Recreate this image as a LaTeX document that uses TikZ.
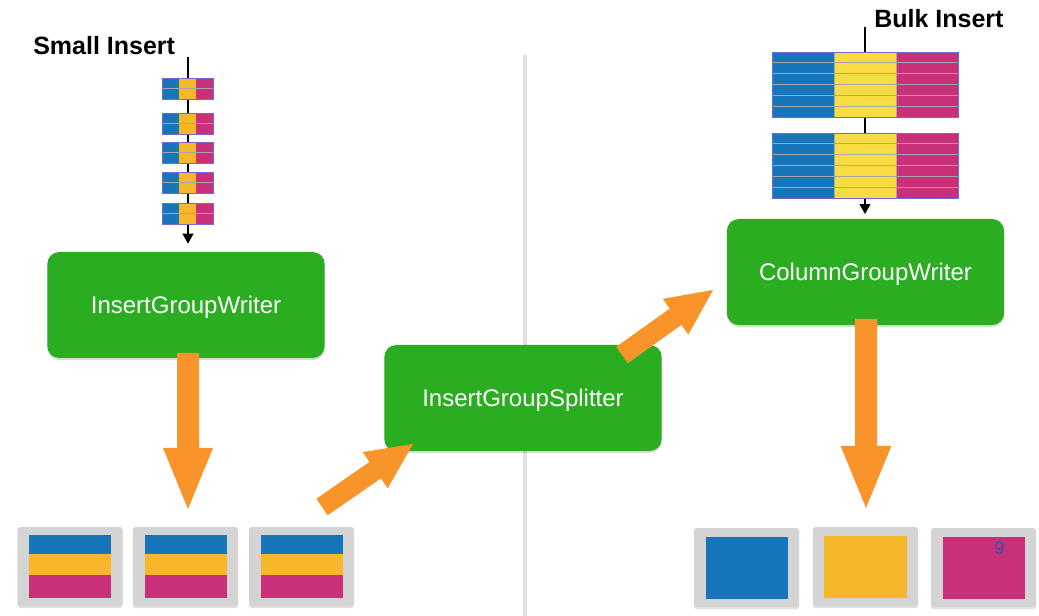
\documentclass[tikz,border=0pt]{standalone}
\usepackage{fontspec}
\setmainfont{Liberation Sans}
\usetikzlibrary{calc,arrows.meta,shadows}
\definecolor{cblue}{HTML}{1776B9}
\definecolor{cyel}{HTML}{F6B72B}
\definecolor{cyelb}{HTML}{F7DD43}
\definecolor{cmag}{HTML}{C93079}
\definecolor{cgreen}{HTML}{2BAD22}
\definecolor{corange}{HTML}{F8942A}
\definecolor{ccard}{HTML}{D4D4D4}
\definecolor{cborder}{HTML}{7468CF}
\definecolor{crow}{HTML}{A6A6A6}
\definecolor{cdiv}{HTML}{E0E0E0}
\definecolor{cnine}{HTML}{3C4FA5}
\newcommand{\fatarrow}[5]{% from, to, shaft half width, head half width, head length
  \coordinate (fahead) at ($(#2)!#5!(#1)$);
  \fill[corange] ($(#1)!#3!90:(#2)$) -- ($(fahead)!#3!90:(#2)$) -- ($(fahead)!#4!90:(#2)$)
    -- (#2) -- ($(fahead)!#4!-90:(#2)$) -- ($(fahead)!#3!-90:(#2)$) -- ($(#1)!#3!-90:(#2)$) -- cycle;
}
\begin{document}
\begin{tikzpicture}[x=0.75pt,y=-0.75pt,
  title/.style={font=\bfseries\fontsize{18.75}{22}\selectfont, inner sep=0pt},
  gbox/.style={rectangle, rounded corners=9pt, fill=cgreen, text=white,
    font=\fontsize{18}{22}\selectfont, minimum width=208pt, minimum height=79.5pt,
    text depth=0pt,
    drop shadow={shadow xshift=0pt, shadow yshift=-1.5pt, opacity=0.3}},
  card/.style={rectangle, rounded corners=2pt, fill=ccard, minimum width=78.75pt,
    minimum height=59.25pt, inner sep=0pt,
    drop shadow={shadow xshift=0pt, shadow yshift=-1.5pt, opacity=0.25}},
  feed/.style={black, line width=1.3pt, -{Triangle[length=7.5pt,width=8pt]}},
  blockedge/.style={draw=cborder, line width=0.7pt},
  rowline/.style={crow, line width=0.75pt}
]
\useasboundingbox[fill=white] (0,0) rectangle (1039,616);

% divider
\draw[cdiv, line width=3.3pt] (525,55) -- (525,616);

% green boxes
\node[gbox] (igw) at (186,305) {InsertGroupWriter};
\node[gbox] (cgw) at (865.5,272) {ColumnGroupWriter};
\node[gbox] (igs) at (523,398) {InsertGroupSplitter};

% titles
\node[title, anchor=base west] (tsmall) at (33,55) {Small Insert};
\node[title, anchor=base west] (tbulk) at (874,28) {Bulk Insert};

% feed lines
\coordinate (sstart) at (188,57);
\coordinate (bstart) at (865,27);
\draw[feed, shorten >=6pt] (sstart) -- (sstart |- igw.north);
\draw[feed, shorten >=3.5pt] (bstart) -- (bstart |- cgw.north);

% small blocks
\foreach \yy in {89,123.5,152.5,182.5,213.5}{
  \fill[cblue] (162,{\yy-10.5}) rectangle (179,{\yy+10.5});
  \fill[cyel] (179,{\yy-10.5}) rectangle (196,{\yy+10.5});
  \fill[cmag] (196,{\yy-10.5}) rectangle (213,{\yy+10.5});
  \draw[rowline] (162,\yy) -- (213,\yy);
  \draw[blockedge] (162,{\yy-10.5}) rectangle (213,{\yy+10.5});
}

% bulk blocks
\foreach \tt in {52,133}{
  \fill[cblue] (772,\tt) rectangle (834,{\tt+65});
  \fill[cyelb] (834,\tt) rectangle (896,{\tt+65});
  \fill[cmag] (896,\tt) rectangle (958,{\tt+65});
  \foreach \k in {1,...,5}{
    \draw[rowline] (772,{\tt+65*\k/6}) -- (958,{\tt+65*\k/6});
  }
  \draw[rowline] (834,\tt) -- (834,{\tt+65});
  \draw[rowline] (896,\tt) -- (896,{\tt+65});
  \draw[blockedge] (772,\tt) rectangle (958,{\tt+65});
}

% cards
\node[card] (c1) at (70,566.5) {};
\node[card] (c2) at (185.5,566.5) {};
\node[card] (c3) at (301.5,566.5) {};
\node[card] (c4) at (746.5,567.5) {};
\node[card] (c5) at (865.5,566.5) {};
\node[card] (c6) at (983.5,567.5) {};
\foreach \c in {c1,c2,c3}{
  \fill[cblue] ($(\c)+(-41,-31.5)$) rectangle ($(\c)+(41,-12.5)$);
  \fill[cyel] ($(\c)+(-41,-12.5)$) rectangle ($(\c)+(41,8.5)$);
  \fill[cmag] ($(\c)+(-41,8.5)$) rectangle ($(\c)+(41,31.5)$);
}
\fill[cblue] ($(c4)+(-41,-31)$) rectangle ($(c4)+(41,31)$);
\fill[cyel] ($(c5)+(-41.5,-31)$) rectangle ($(c5)+(41.5,31)$);
\fill[cmag] ($(c6)+(-41,-31)$) rectangle ($(c6)+(41,31)$);
\node[text=cnine, font=\fontsize{13.5}{16}\selectfont, inner sep=0pt] (pnum) at (999.5,548) {9};

% orange arrows
\coordinate (a1s) at (188,353);
\coordinate (a1e) at (188,509);
\coordinate (a2s) at (322,507);
\coordinate (a2e) at (413,444);
\coordinate (a3s) at (622,355);
\coordinate (a3e) at (713,290);
\coordinate (a4s) at (866,319);
\coordinate (a4e) at (866,508);
\fatarrow{a1s}{a1e}{8.25pt}{18.75pt}{45.75pt}
\fatarrow{a2s}{a2e}{7.5pt}{16.5pt}{34.5pt}
\fatarrow{a3s}{a3e}{7.5pt}{16.5pt}{34.5pt}
\fatarrow{a4s}{a4e}{8.25pt}{19pt}{46.5pt}
\end{tikzpicture}
\end{document}
